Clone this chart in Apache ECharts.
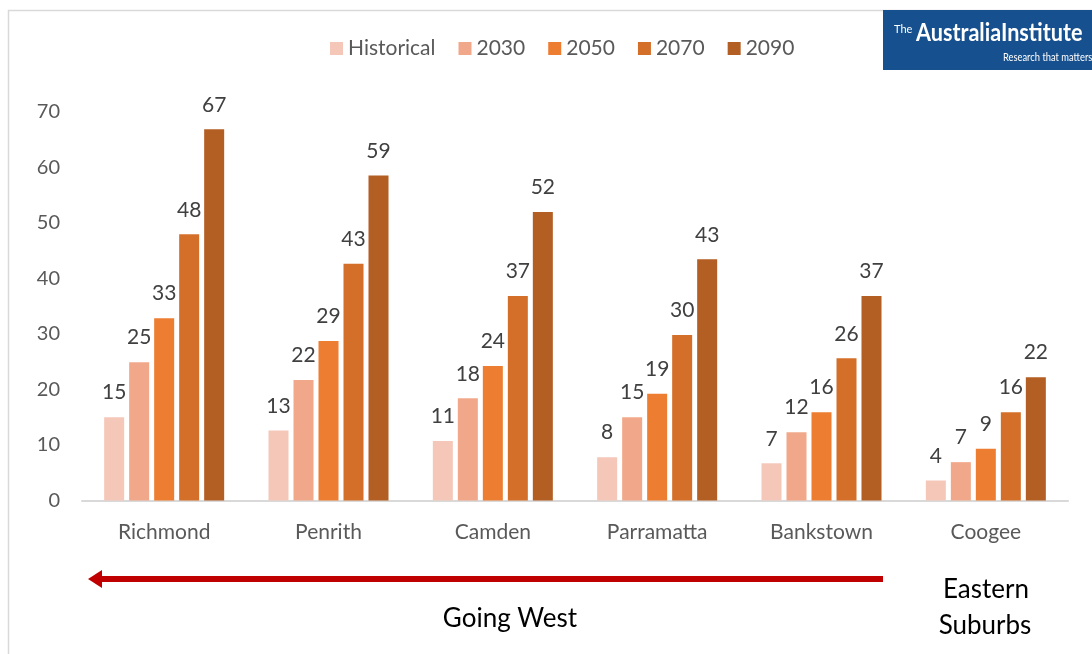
<!DOCTYPE html>
<html>
<head>
<meta charset="utf-8">
<script src="https://cdn.jsdelivr.net/npm/echarts@6/dist/echarts.min.js"></script>
<style>
html,body{margin:0;padding:0;background:#fff;}
#chart{width:1092px;height:654px;}
</style>
</head>
<body>
<div id="chart"></div>
<script>
const categories = ['Richmond', 'Penrith', 'Camden', 'Parramatta', 'Bankstown', 'Coogee'];
const seriesNames = ['Historical', '2030', '2050', '2070', '2090'];
const historical = [15.0, 12.6, 10.7, 7.8, 6.7, 3.6];
const y2030 = [24.9, 21.7, 18.4, 15.0, 12.3, 6.9];
const y2050 = [32.8, 28.7, 24.2, 19.2, 15.9, 9.3];
const y2070 = [47.9, 42.6, 36.8, 29.8, 25.6, 15.9];
const y2090 = [66.8, 58.5, 51.9, 43.4, 36.8, 22.2];
const colors = ['#f5c7b8', '#f1a88a', '#ed7d31', '#d46f2a', '#b35e22'];
const seriesData = [historical, y2030, y2050, y2070, y2090];

const FONT = 'Lato, "Open Sans", sans-serif';
const chart = echarts.init(document.getElementById('chart'), null, {renderer: 'canvas'});
chart.setOption({
  animation: false,
  textStyle: {fontFamily: FONT},
  legend: {
    top: 33,
    left: 325,
    itemWidth: 13,
    itemHeight: 13,
    itemGap: 23,
    icon: 'rect',
    textStyle: {fontSize: 21, color: '#595959', fontFamily: FONT},
    data: seriesNames
  },
  grid: {left: 82, right: 24, top: 111.5, bottom: 153.5},
  xAxis: {
    type: 'category',
    data: categories,
    axisLine: {lineStyle: {color: '#d9d9d9', width: 2}},
    axisTick: {show: false},
    axisLabel: {fontSize: 21, color: '#595959', margin: 21, fontFamily: FONT}
  },
  yAxis: {
    type: 'value',
    min: 0, max: 70, interval: 10,
    axisLine: {show: false},
    axisTick: {show: false},
    splitLine: {show: false},
    axisLabel: {fontSize: 20, color: '#595959', margin: 22, fontFamily: FONT}
  },
  series: seriesNames.map((n, i) => ({
    name: n,
    type: 'bar',
    data: seriesData[i],
    barWidth: 20,
    barGap: '25%',
    itemStyle: {color: colors[i]},
    label: {
      show: true, position: 'top', distance: 14,
      fontSize: 21, color: '#404040', fontFamily: FONT,
      formatter: p => Math.round(p.value)
    }
  })),
  graphic: [
    {type: 'rect', shape: {x: 8.5, y: 10.5, width: 1200, height: 700}, style: {fill: 'none', stroke: '#d9d9d9', lineWidth: 1.5}, silent: true},
    {type: 'rect', shape: {x: 883, y: 10, width: 209, height: 60}, style: {fill: '#17508e'}},
    {type: 'text', x: 894, y: 24, style: {text: 'The', fill: '#fff', font: '11px Lato, sans-serif'}},
    {type: 'text', x: 916, y: 21, scaleX: 0.9, style: {text: 'AustraliaInstitute', fill: '#fff', font: 'bold 24px Lato, sans-serif'}},
    {type: 'text', x: 1003, y: 52, scaleX: 0.85, style: {text: 'Research that matters', fill: '#fff', font: '11px Lato, sans-serif'}},
    {type: 'line', shape: {x1: 96, y1: 579, x2: 883, y2: 579}, style: {stroke: '#c00000', lineWidth: 6}},
    {type: 'polygon', shape: {points: [[88, 579], [102, 570], [102, 588]]}, style: {fill: '#c00000'}},
    {type: 'text', x: 510, y: 619, style: {text: 'Going West', fill: '#000', font: '26px ' + FONT, align: 'center', verticalAlign: 'middle'}},
    {type: 'text', x: 986, y: 590, style: {text: 'Eastern', fill: '#000', font: '26px ' + FONT, align: 'center', verticalAlign: 'middle'}},
    {type: 'text', x: 985, y: 626, style: {text: 'Suburbs', fill: '#000', font: '26px ' + FONT, align: 'center', verticalAlign: 'middle'}}
  ]
});
</script>
</body>
</html>
